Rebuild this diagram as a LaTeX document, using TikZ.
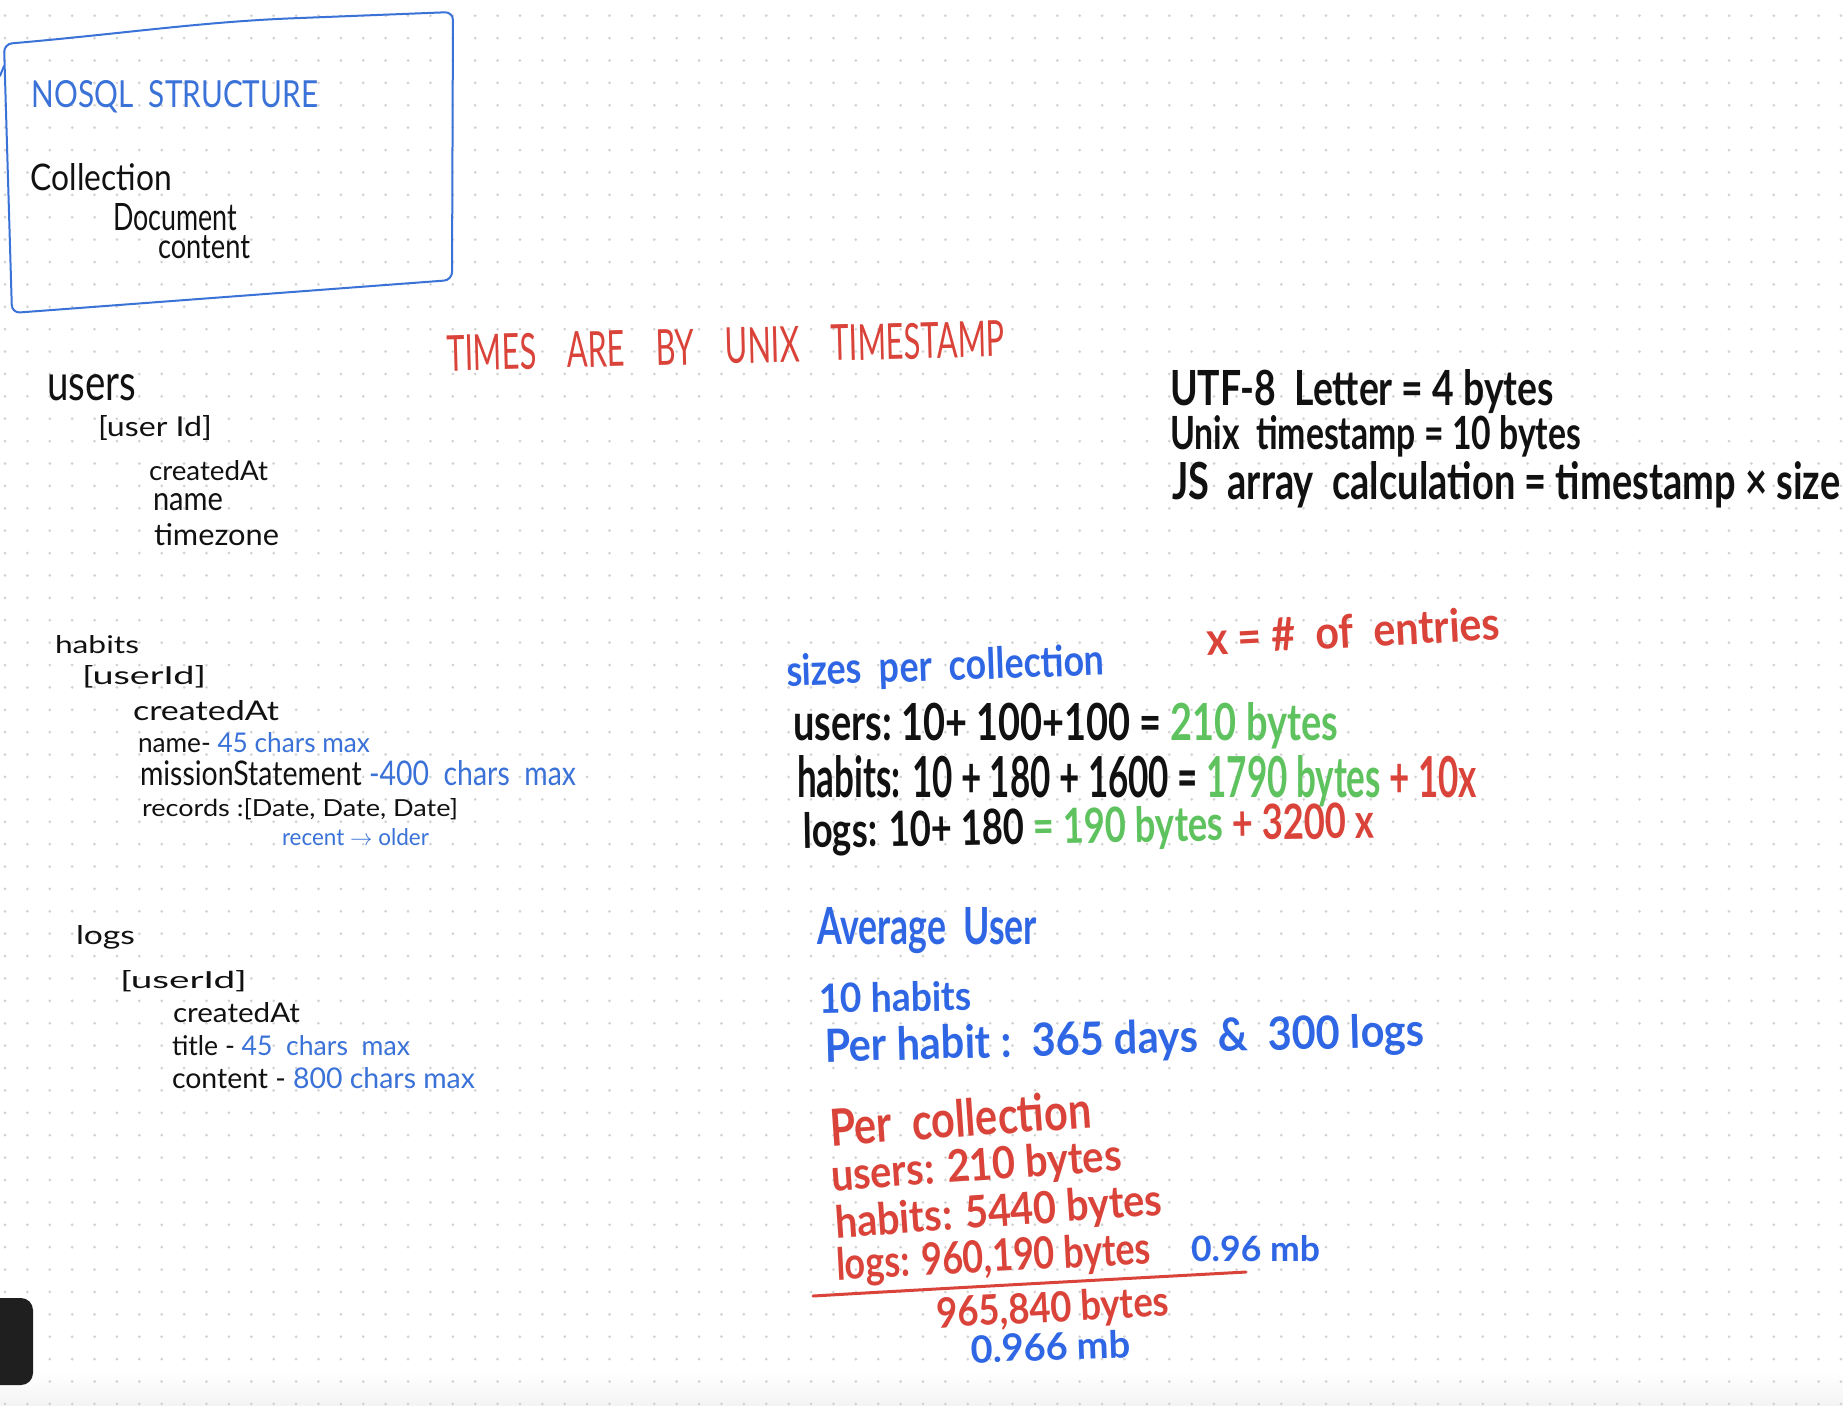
\documentclass[tikz,border=0pt]{standalone}
\usepackage{fontspec}
\setmainfont{Lato}
\usepackage{graphicx}
\newlength\pxu \setlength\pxu{0.5pt}
\newcommand\T[3]{\resizebox{#1\pxu}{#2\pxu}{#3}}
\definecolor{inkblue}{HTML}{3A72D8}
\definecolor{boldblue}{HTML}{2F66E4}
\definecolor{inkred}{HTML}{DA4339}
\definecolor{inkgreen}{HTML}{5EC25E}
\definecolor{ink}{HTML}{111111}
\definecolor{dotc}{HTML}{D2D2D2}
\begin{document}
\begin{tikzpicture}[x=0.5pt,y=-0.5pt,
  tx/.style={inner sep=0pt, outer sep=0pt, anchor=base west, text=ink},
  bx/.style={tx, font=\bfseries},
  pen/.style={line width=1pt, line cap=round, line join=round}]
\useasboundingbox (0,0) rectangle (1843,1405);
\fill[white] (0,0) rectangle (1843,1405);
\shade[top color=white, bottom color=gray!9] (0,1372) rectangle (1843,1405);
% dot grid
\foreach \i in {0,...,82}{
  \foreach \j in {0,...,62}{
    \fill[dotc] ({5+22.39*\i},{15.7+22.39*\j}) circle[radius=0.75pt];
  }
}
% NoSQL box
\draw[pen, inkblue, rounded corners=4pt] (4,44) .. controls (120,34) and (200,22) .. (300,18) -- (453,12) -- (452,280) -- (12,313) -- cycle;
\draw[pen, inkblue] (4,66) -- (0,76);
\node[tx, text=inkblue] (nosql) at (32,107) {\T{286}{27}{NOSQL\ \ STRUCTURE}};
\node[tx] (coll) at (31,190) {\T{141}{27}{Collection}};
\node[tx] (doc) at (113,230) {\T{124}{27}{Document}};
\node[tx] (cont) at (158,258) {\T{92}{23}{content}};
% users
\node[tx] (users) at (47,400) {\T{89}{26}{users}};
\node[tx] (uid) at (98,436) {\T{114}{21}{[user Id]}};
\node[tx] (ucr) at (149,480) {\T{119}{20}{createdAt}};
\node[tx] (uname) at (153,510) {\T{70}{17}{name}};
\node[tx] (utz) at (154,545) {\T{125}{22}{timezone}};
% habits
\node[tx] (habits) at (55,653) {\T{84}{18}{habits}};
\node[tx] (hid) at (82,684) {\T{124}{19}{[userId]}};
\node[tx] (hcr) at (133,720) {\T{146}{20}{createdAt}};
\node[tx] (hname) at (138,752) {\T{232}{20}{name- \textcolor{inkblue}{45 chars max}}};
\node[tx] (hmis) at (140,785) {\T{436}{25}{missionStatement \textcolor{inkblue}{-400\ \ chars\ \ max}}};
\node[tx] (hrec) at (142,816) {\T{316}{18}{records :[Date, Date, Date]}};
\node[tx, text=inkblue] (hord) at (282,845) {\T{147}{17}{recent \ensuremath{\rightarrow} older}};
% logs
\node[tx] (logs) at (76,944) {\T{59}{19}{logs}};
\node[tx] (lid) at (120,988) {\T{127}{18}{[userId]}};
\node[tx] (lcr) at (173,1022) {\T{127}{20}{createdAt}};
\node[tx] (ltit) at (172,1055) {\T{238}{20}{title - \textcolor{inkblue}{45\ \ chars\ \ max}}};
\node[tx] (lcon) at (172,1088) {\T{303}{21}{content - \textcolor{inkblue}{800 chars max}}};
% times note
\node[tx, text=inkred, rotate=1.5] (times) at (447,371) {\T{558}{36}{TIMES\quad ARE\quad BY\quad UNIX\quad TIMESTAMP}};
% sizes
\node[bx] (utf) at (1170,405) {\T{384}{36}{UTF-8\ \ Letter = 4 bytes}};
\node[bx] (unix) at (1170,449) {\T{411}{34}{Unix\ \ timestamp = 10 bytes}};
\node[bx] (js) at (1172,499) {\T{668}{38}{JS\ \ array\ \ calculation = timestamp × size}};
\node[bx, text=inkred, rotate=3] (xdef) at (1207,655) {\T{294}{34}{x = \#\ \ of\ \ entries}};
\node[bx, text=boldblue, rotate=2] (spc) at (787,686) {\T{318}{32}{sizes\ \ per\ \ collection}};
\node[bx] (su) at (793,740) {\T{545}{38}{users:\ 10+ 100+100 = \textcolor{inkgreen}{210 bytes}}};
\node[bx] (sh) at (797,797) {\T{680}{42}{habits: 10 + 180 + 1600 = \textcolor{inkgreen}{1790 bytes} \textcolor{inkred}{+ 10x}}};
\node[bx, rotate=1] (sl) at (803,848) {\T{572}{36}{logs: 10+ 180 \textcolor{inkgreen}{= 190 bytes} \textcolor{inkred}{+ 3200 x}}};
% average user
\node[bx, text=boldblue] (avg) at (817,944) {\T{220}{37}{Average\ \ User}};
\node[bx, text=boldblue, rotate=1] (ten) at (819,1013) {\T{153}{30}{10 habits}};
\node[bx, text=boldblue, rotate=1.5] (perh) at (825,1062) {\T{600}{34}{Per habit :\ \ 365 days\ \ \&\ \ 300 logs}};
% per collection
\node[bx, text=inkred, rotate=4] (pc) at (831,1146) {\T{262}{38}{Per\ \ collection}};
\node[bx, text=inkred, rotate=4] (pcu) at (832,1191) {\T{291}{33}{users: 210 bytes}};
\node[bx, text=inkred, rotate=4] (pch) at (836,1238) {\T{328}{33}{habits: 5440 bytes}};
\node[bx, text=inkred, rotate=3] (pcl) at (837,1280) {\T{315}{33}{logs: 960,190 bytes}};
\node[bx, text=boldblue] (mb1) at (1191,1261) {\T{129}{26}{0.96 mb}};
\coordinate (ulA) at (813,1296);
\coordinate (ulB) at (1246,1272);
\draw[inkred, line width=1.5pt, line cap=round] (ulA) .. controls (950,1288) and (1100,1280) .. (ulB);
\node[bx, text=inkred, rotate=3] (tot) at (937,1328) {\T{233}{31}{965,840 bytes}};
\node[bx, text=boldblue, rotate=2] (mb2) at (971,1363) {\T{160}{28}{0.966 mb}};
% black tab
\fill[black!88, rounded corners=6pt] (-20,1298) rectangle (33,1385);
\end{tikzpicture}
\end{document}
